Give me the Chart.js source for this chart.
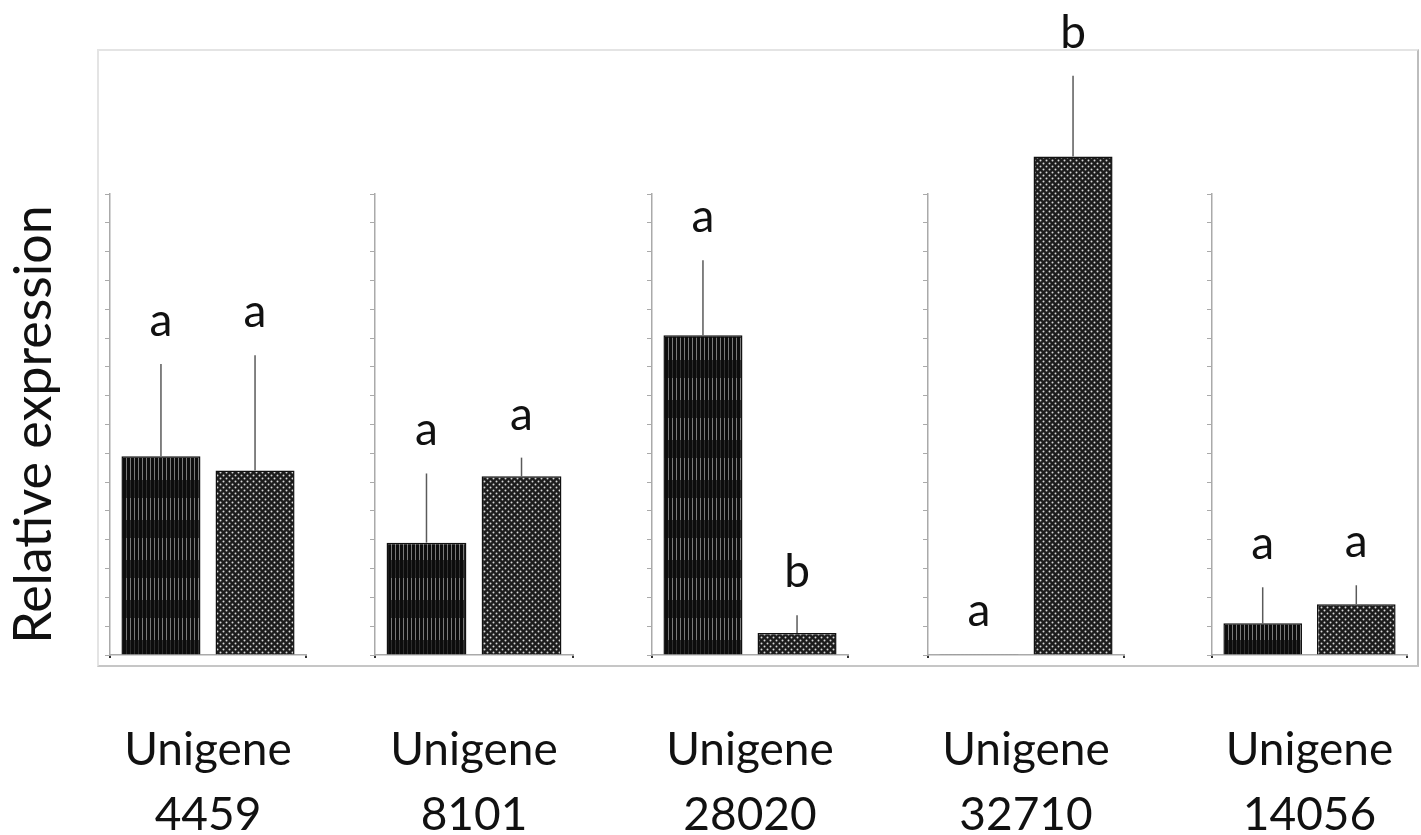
<!DOCTYPE html>
<html>
<head>
<meta charset="utf-8">
<script src="https://cdn.jsdelivr.net/npm/chart.js@4.4.0/dist/chart.umd.min.js"></script>
<style>
  html, body { margin: 0; padding: 0; background: #fff; }
  #wrap { position: relative; width: 1421px; height: 835px; overflow: hidden; }
  #box { position: absolute; left: 97px; top: 49px; width: 1318px; height: 614px;
         border: 2px solid #e4e4e4; border-right-color: #bdbdbd; border-bottom-color: #c6c6c6; }
  canvas { position: absolute; top: 0; }
</style>
</head>
<body>
<div id="wrap">
  <div id="box"></div>
</div>
<script>
// gene groups (x labels)
const genes = [
  ['Unigene', '4459'],
  ['Unigene', '8101'],
  ['Unigene', '28020'],
  ['Unigene', '32710'],
  ['Unigene', '14056']
];
// relative expression (axis units = tick steps)
const ctrlValues = [6.9, 3.9, 11.1, 0.03, 1.1];
const ctrlErr    = [3.2, 2.4, 2.6, 0, 1.25];
const trtValues  = [6.4, 6.2, 0.76, 17.3, 1.76];
const trtErr     = [4.0, 0.65, 0.62, 2.8, 0.66];
// significance letters
const ctrlLetters = ['a', 'a', 'a', 'a', 'a'];
const trtLetters  = ['a', 'a', 'b', 'b', 'a'];
const yTicksMax = 16;

// panel layout (pixels)
const axisX = [110, 375, 652, 928, 1212];
const endX  = [306, 573, 848, 1124, 1407];

const FONT = 'Lato, "Open Sans", sans-serif';

function stripePattern() {
  const c = document.createElement('canvas');
  c.width = 4; c.height = 40;
  const g = c.getContext('2d');
  g.fillStyle = '#0d0d0d'; g.fillRect(0, 0, 4, 40);
  g.fillStyle = '#2e2e2e'; g.fillRect(2, 0, 1, 18);
  g.fillStyle = '#7a7a7a'; g.fillRect(2, 18, 1, 22);
  return g.createPattern(c, 'repeat');
}
function dotPattern() {
  const c = document.createElement('canvas');
  c.width = 6; c.height = 6;
  const g = c.getContext('2d');
  g.fillStyle = '#1c1c1c'; g.fillRect(0, 0, 6, 6);
  g.fillStyle = '#d8d8d8';
  g.beginPath(); g.arc(1.5, 1.5, 1.0, 0, Math.PI * 2); g.fill();
  g.beginPath(); g.arc(4.5, 4.5, 1.0, 0, Math.PI * 2); g.fill();
  return g.createPattern(c, 'repeat');
}
const stripes = stripePattern();
const dots = dotPattern();

// error bars (upward only) and letters
const annotPlugin = {
  id: 'annot',
  afterDatasetsDraw(chart) {
    const ctx = chart.ctx;
    const y = chart.scales.y;
    const i = chart.options.plugins.annot.index;
    const errs = [ctrlErr[i], trtErr[i]];
    const letters = [ctrlLetters[i], trtLetters[i]];
    ctx.save();
    chart.data.datasets.forEach((ds, d) => {
      const bar = chart.getDatasetMeta(d).data[0];
      const v = ds.data[0];
      const top = y.getPixelForValue(v + errs[d]);
      if (errs[d] > 0) {
        ctx.strokeStyle = '#5a5a5a';
        ctx.lineWidth = 1.5;
        ctx.beginPath();
        ctx.moveTo(bar.x, y.getPixelForValue(v));
        ctx.lineTo(bar.x, top);
        ctx.stroke();
      }
      ctx.fillStyle = '#111';
      ctx.font = '46px ' + FONT;
      ctx.textAlign = 'center';
      ctx.textBaseline = 'alphabetic';
      ctx.fillText(letters[d], bar.x, top - 28);
    });
    ctx.restore();
  }
};

function makePanel(i) {
  const first = i === 0;
  const yWidth = first ? 110 : 6;
  const left = axisX[i] - yWidth;
  const width = endX[i] - left + 10;
  const cv = document.createElement('canvas');
  cv.width = width; cv.height = 835;
  cv.style.left = left + 'px';
  document.getElementById('wrap').appendChild(cv);

  new Chart(cv, {
    type: 'bar',
    data: {
      labels: [genes[i]],
      datasets: [
        { label: 'Control', data: [ctrlValues[i]], backgroundColor: stripes,
          borderColor: '#111', borderWidth: 1.5, clip: false },
        { label: 'Treatment', data: [trtValues[i]], backgroundColor: dots,
          borderColor: '#111', borderWidth: 1.5, clip: false }
      ]
    },
    options: {
      responsive: false,
      animation: false,
      events: [],
      layout: { padding: { top: 194, bottom: 0, left: 0, right: 10 } },
      datasets: { bar: { categoryPercentage: 0.96, barPercentage: 0.84 } },
      plugins: {
        legend: { display: false },
        tooltip: { enabled: false },
        annot: { index: i }
      },
      scales: {
        x: {
          offset: true,
          grid: { display: true, drawOnChartArea: false, drawTicks: true, tickLength: 3,
                  color: '#333', lineWidth: 2, offset: true },
          border: { display: true, color: '#aaa', width: 1.5 },
          ticks: {
            color: '#111', padding: -5, maxRotation: 0, autoSkip: false,
            font: { family: FONT, size: 46, lineHeight: 1.41 },
            // a blank first line pushes the gene name well below the axis box
            callback(value) { return [''].concat(this.getLabelForValue(value)); }
          },
          afterFit(s) { s.height = 180; }
        },
        y: {
          min: 0,
          max: yTicksMax,
          ticks: { display: false, stepSize: 1 },
          grid: { drawOnChartArea: false, drawTicks: true, tickLength: 5, color: '#aaa' },
          border: { display: true, color: '#aaa', width: 1.5 },
          title: {
            display: first,
            text: 'Relative expression',
            color: '#111',
            font: { family: FONT, size: 52 },
            padding: { top: 3, bottom: 0 }
          },
          afterFit(s) { s.width = yWidth; }
        }
      }
    },
    plugins: [annotPlugin]
  });
}

for (let i = 0; i < genes.length; i++) makePanel(i);
</script>
</body>
</html>
